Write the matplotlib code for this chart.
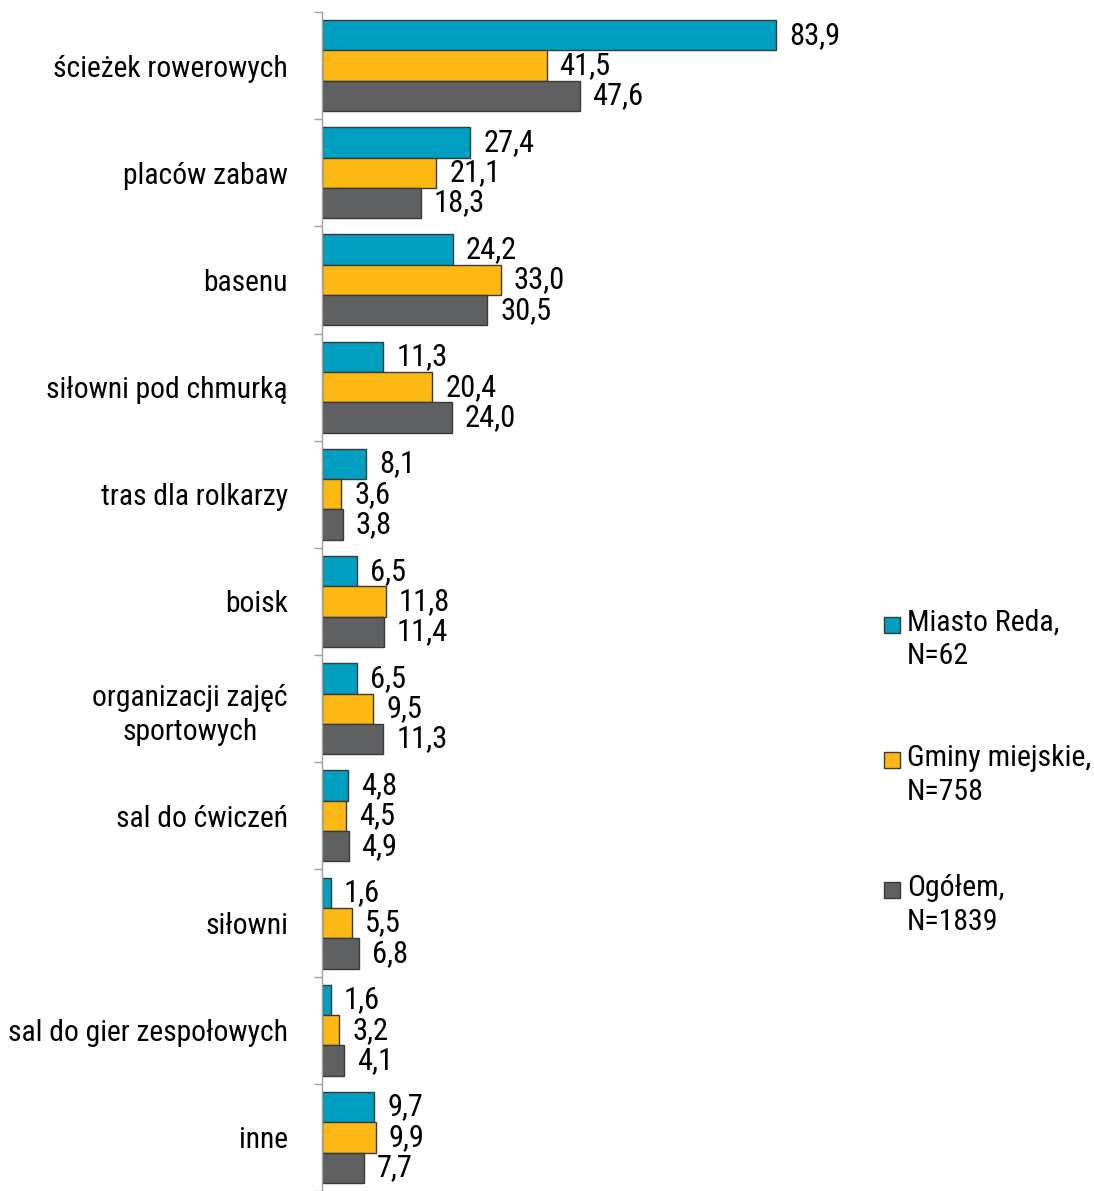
import numpy as np
import matplotlib.pyplot as plt
from matplotlib.patches import Rectangle

# Kategorie i wartości (%)
kategorie = ['ścieżek rowerowych', 'placów zabaw', 'basenu', 'siłowni pod chmurką',
             'tras dla rolkarzy', 'boisk', 'organizacji zajęć\nsportowych',
             'sal do ćwiczeń', 'siłowni', 'sal do gier zespołowych', 'inne']
reda = [83.9, 27.4, 24.2, 11.3, 8.1, 6.5, 6.5, 4.8, 1.6, 1.6, 9.7]
gminy = [41.5, 21.1, 33.0, 20.4, 3.6, 11.8, 9.5, 4.5, 5.5, 3.2, 9.9]
ogolem = [47.6, 18.3, 30.5, 24.0, 3.8, 11.4, 11.3, 4.9, 6.8, 4.1, 7.7]
serie = ['Miasto Reda,\nN=62', 'Gminy miejskie,\nN=758', 'Ogółem,\nN=1839']
kolory = ['#009FC2', '#FDB913', '#5F6062']

plt.rcParams['font.family'] = ['Roboto Condensed', 'DejaVu Sans']
FS = 22

fig = plt.figure(figsize=(10.94, 11.91), dpi=100)
ax = fig.add_axes([322/1094, 0.0, 541/1094, 1 - 12/1191])

n = len(kategorie)
y = np.arange(n)
h = 0.283
for i, (vals, kol) in enumerate(zip([reda, gminy, ogolem], kolory)):
    pos = y - h + i*h
    ax.barh(pos, vals, height=h, color=kol, edgecolor='#3A3A3A', linewidth=1.0)
    for p, v in zip(pos, vals):
        ax.annotate(f'{v:.1f}'.replace('.', ','), (v, p), xytext=(13, 0),
                    textcoords='offset pixels', va='center', ha='left', fontsize=FS)

ax.set_xlim(0, 100)
ax.set_ylim(n - 0.5, -0.5)
ax.set_yticks(y)
ax.set_yticklabels(kategorie, fontsize=21.3)
for t in ax.get_yticklabels():
    t.set_multialignment('center')
    t.set_linespacing(1.3)
ax.set_yticks(np.arange(n + 1) - 0.5, minor=True)
ax.tick_params(axis='y', which='major', length=0, pad=24.5)
ax.tick_params(axis='y', which='minor', length=5.8, color='#A0A0A0', width=1)
ax.set_xticks([])
for s in ['top', 'right', 'bottom']:
    ax.spines[s].set_visible(False)
ax.spines['left'].set_color('#A0A0A0')
ax.spines['left'].set_linewidth(1)

# legenda
leg_y = [625, 760, 890]
for lab, kol, yy in zip(serie, kolory, leg_y):
    fig.patches.append(Rectangle((884/1094, 1 - (yy + 8)/1191), 16/1094, 16/1191,
                                 transform=fig.transFigure, facecolor=kol,
                                 edgecolor='#3A3A3A', linewidth=1.0))
    fig.text(907/1094, 1 - (yy - 16)/1191, lab, fontsize=21.5, va='top', ha='left',
             linespacing=1.25)

fig.savefig('out.png', dpi=100)
